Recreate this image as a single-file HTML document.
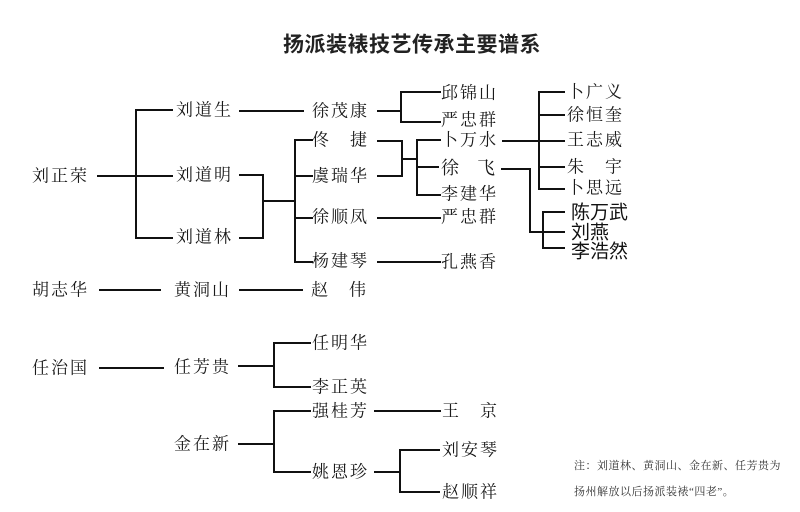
<!DOCTYPE html>
<html><head><meta charset="utf-8">
<style>
html,body{margin:0;padding:0;background:#fff;}
body{width:800px;height:512px;overflow:hidden;position:relative;}
svg{position:absolute;left:0;top:0;}
.n{font-family:"Liberation Serif","Noto Serif CJK SC",serif;font-size:17px;letter-spacing:2px;fill:#1a1a1a;}
.s{font-family:"Liberation Sans","Noto Sans CJK SC",sans-serif;font-size:19px;fill:#111;}
.t{font-family:"Liberation Sans","Noto Sans CJK SC",sans-serif;font-size:21px;font-weight:700;letter-spacing:0.5px;fill:#222;}
.note{font-family:"Liberation Serif","Noto Serif CJK SC",serif;font-size:11px;letter-spacing:0.5px;fill:#333;}
</style></head>
<body>
<svg width="800" height="512" viewBox="0 0 800 512" xmlns="http://www.w3.org/2000/svg">
<g stroke="#111" stroke-width="2" fill="none" stroke-linecap="square">
<!-- 刘正荣 -->
<path d="M98 176H136M136 110V238M136 110H172M136 176H172M136 238H172"/>
<path d="M240 111H303"/>
<path d="M378 111H401M401 92V122M401 92H440M401 122H440"/>
<path d="M240 175H263M240 238H263M263 175V238M263 201H295M295 140V262M295 140H312M295 176H312M295 218H312M295 262H312"/>
<path d="M378 141H402M378 176H402M402 141V176M402 159H417M417 140V195M417 140H440M417 167H438M417 195H440"/>
<path d="M378 218H440M378 262H440"/>
<path d="M503 141H539M539 92V189M539 92H564M539 115H564M539 141H564M539 167H564M539 189H564"/>
<path d="M502 169H530V232H543M543 212V248M543 212H564M543 232H564M543 248H564"/>
<!-- 胡志华 -->
<path d="M100 290H160M240 290H302"/>
<!-- 任治国 -->
<path d="M100 368H163M239 366H274M274 343V387M274 343H310M274 387H310"/>
<!-- 金在新 -->
<path d="M239 444H274M274 411V472M274 411H310M274 472H310"/>
<path d="M375 411H440"/>
<path d="M375 472H400M400 450V492M400 450H439M400 492H439"/>
</g>

<text class="t" x="283" y="45" dominant-baseline="central">扬派装裱技艺传承主要谱系</text>

<g class="n" dominant-baseline="central">
<text x="32" y="176">刘正荣</text>
<text x="176" y="110">刘道生</text>
<text x="176" y="175">刘道明</text>
<text x="176" y="237">刘道林</text>
<text x="312" y="111">徐茂康</text>
<text x="312" y="140">佟　捷</text>
<text x="312" y="176">虞瑞华</text>
<text x="312" y="217">徐顺凤</text>
<text x="312" y="261">杨建琴</text>
<text x="441" y="93">邱锦山</text>
<text x="441" y="120">严忠群</text>
<text x="441" y="140">卜万水</text>
<text x="441" y="168" style="font-size:18px;letter-spacing:0">徐　飞</text>
<text x="441" y="194">李建华</text>
<text x="441" y="217">严忠群</text>
<text x="441" y="262">孔燕香</text>
<text x="567" y="92">卜广义</text>
<text x="567" y="115">徐恒奎</text>
<text x="567" y="140">王志威</text>
<text x="567" y="167">朱　宇</text>
<text x="567" y="188">卜思远</text>
<text x="32" y="290">胡志华</text>
<text x="174" y="290">黄洞山</text>
<text x="311" y="290">赵　伟</text>
<text x="32" y="368">任治国</text>
<text x="174" y="367">任芳贵</text>
<text x="312" y="343">任明华</text>
<text x="312" y="387">李正英</text>
<text x="174" y="444">金在新</text>
<text x="312" y="411">强桂芳</text>
<text x="312" y="472">姚恩珍</text>
<text x="442" y="411">王　京</text>
<text x="442" y="450">刘安琴</text>
<text x="442" y="492">赵顺祥</text>
</g>

<g class="s" dominant-baseline="central">
<text x="571" y="213">陈万武</text>
<text x="571" y="233">刘燕</text>
<text x="571" y="252">李浩然</text>
</g>

<g class="note" dominant-baseline="central">
<text x="574" y="466">注：刘道林、黄洞山、金在新、任芳贵为</text>
<text x="574" y="492">扬州解放以后扬派装裱“四老”。</text>
</g>
</svg>
</body></html>
